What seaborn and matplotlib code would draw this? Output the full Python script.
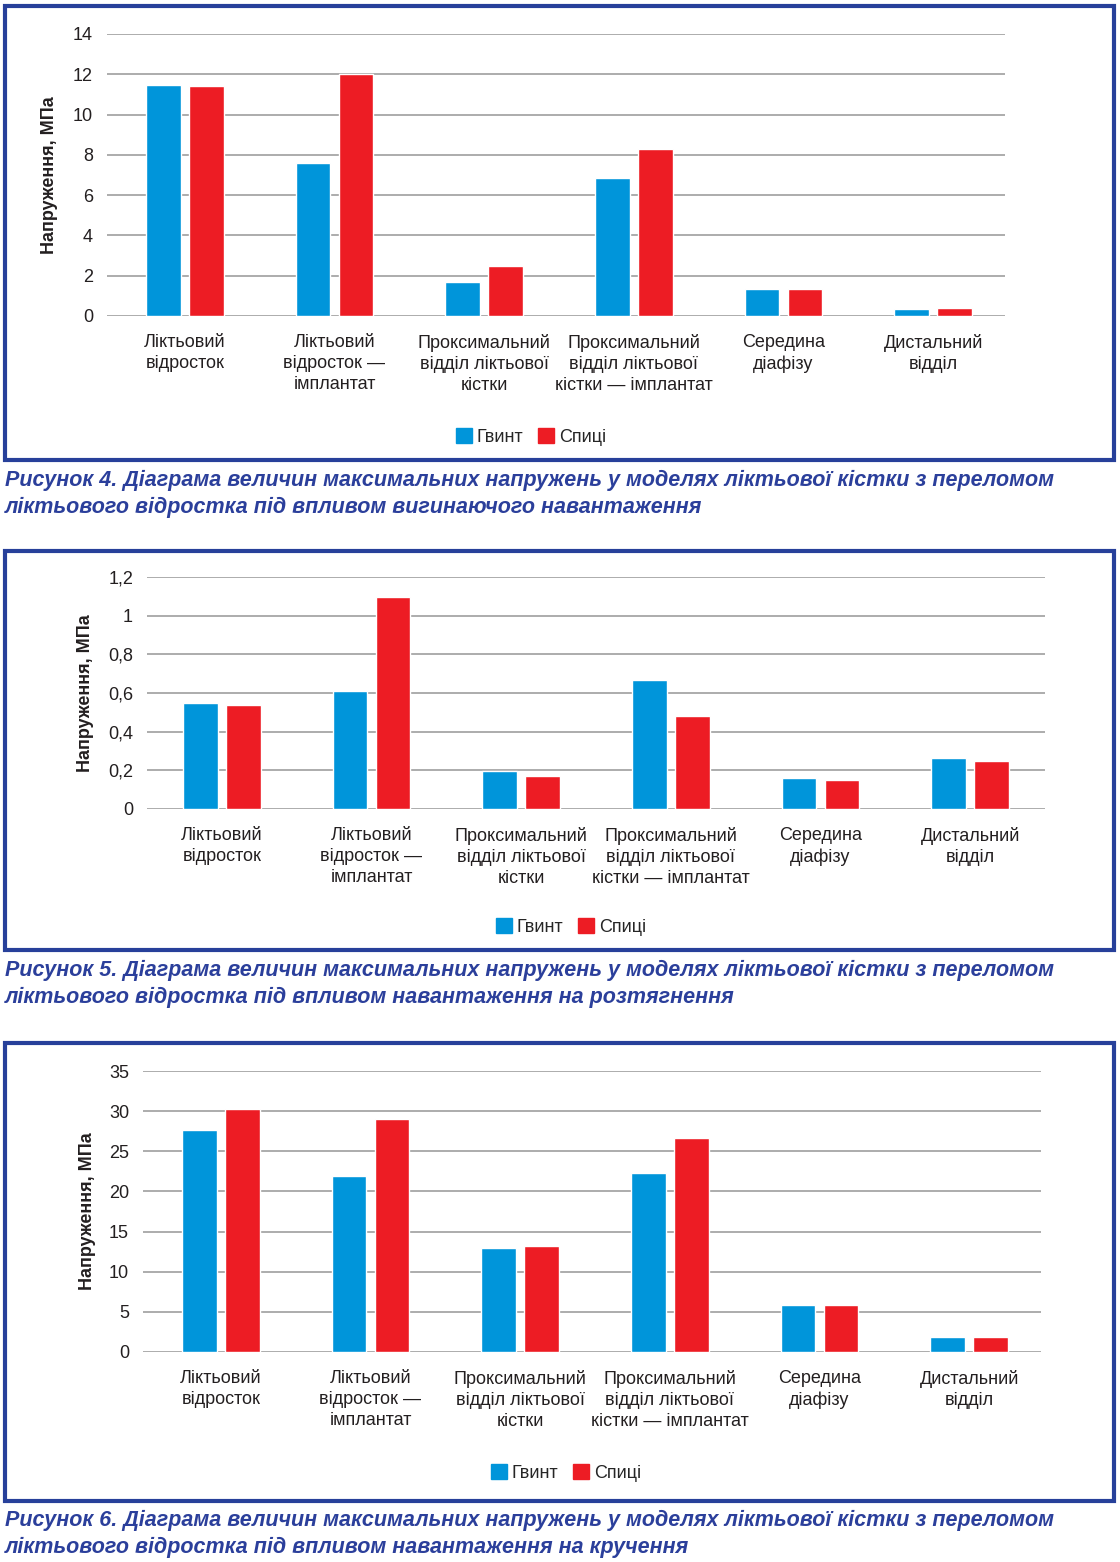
import pandas as pd
import matplotlib.pyplot as plt
import matplotlib.patches as mpatches
from matplotlib.ticker import FuncFormatter
import seaborn as sns

sns.set_theme(style='white')
plt.rcParams['font.family'] = ['Liberation Sans', 'DejaVu Sans']

# Дані
categories = ['Ліктьовий\nвідросток',
              'Ліктьовий\nвідросток —\nімплантат',
              'Проксимальний\nвідділ ліктьової\nкістки',
              'Проксимальний\nвідділ ліктьової\nкістки — імплантат',
              'Середина\nдіафізу',
              'Дистальний\nвідділ']
series = ['Гвинт', 'Спиці']

bend_screw = [11.47, 7.6, 1.69, 6.85, 1.34, 0.35]
bend_wire = [11.42, 12.02, 2.48, 8.29, 1.34, 0.40]

tens_screw = [0.548, 0.61, 0.197, 0.667, 0.16, 0.264]
tens_wire = [0.538, 1.097, 0.171, 0.481, 0.15, 0.248]

tors_screw = [27.65, 21.92, 12.95, 22.29, 5.85, 1.87]
tors_wire = [30.26, 29.02, 13.2, 26.65, 5.85, 1.87]

y_limits = [(0, 14, 2), (0, 1.2, 0.2), (0, 35, 5)]
captions = [
    'Рисунок 4. Діаграма величин максимальних напружень у моделях ліктьової кістки з переломом\n'
    'ліктьового відростка під впливом вигинаючого навантаження',
    'Рисунок 5. Діаграма величин максимальних напружень у моделях ліктьової кістки з переломом\n'
    'ліктьового відростка під впливом навантаження на розтягнення',
    'Рисунок 6. Діаграма величин максимальних напружень у моделях ліктьової кістки з переломом\n'
    'ліктьового відростка під впливом навантаження на кручення',
]

colors = ['#0095DA', '#ED1C24']
frame_color = '#27409A'
W, H = 1120, 1562

# положення (у пікселях): осі, зсув категорій, рамка, легенда, підпис осі y, підпис рисунка
layout = [
    dict(ax=(107, 1005, 34, 316), shift=0.02, box=(5, 1114, 6, 460), leg=(531, 437), ylab=50, cap=470),
    dict(ax=(147, 1045, 577, 809), shift=0.0, box=(5, 1114, 551, 950), leg=(571, 927), ylab=85, cap=960),
    dict(ax=(143, 1041, 1071, 1352), shift=0.02, box=(5, 1114, 1043, 1501), leg=(566, 1473), ylab=87, cap=1510),
]

datasets = [(bend_screw, bend_wire), (tens_screw, tens_wire), (tors_screw, tors_wire)]

fig = plt.figure(figsize=(W / 100, H / 100), dpi=100)


def comma_fmt(v, pos):
    s = f'{v:.1f}'.rstrip('0').rstrip('.')
    return s.replace('.', ',')


for (screw, wire), lay, (y0, y1, step), cap in zip(datasets, layout, y_limits, captions):
    l, r, t, b = lay['ax']
    ax = fig.add_axes([l / W, 1 - b / H, (r - l) / W, (b - t) / H])

    df = pd.DataFrame({
        'category': categories * 2,
        'value': screw + wire,
        'series': [series[0]] * 6 + [series[1]] * 6,
    })
    sns.barplot(data=df, x='category', y='value', hue='series', palette=colors,
                width=0.575, gap=0.19, saturation=1, ax=ax, legend=False, zorder=3)

    ax.set_ylim(y0, y1)
    ax.set_xlim(-0.5 - lay['shift'], 5.5 - lay['shift'])
    ticks = [round(y0 + i * step, 2) for i in range(int(round((y1 - y0) / step)) + 1)]
    ax.set_yticks(ticks)
    ax.yaxis.set_major_formatter(FuncFormatter(comma_fmt))
    ax.grid(axis='y', color='#A6A6A6', linewidth=1.3, zorder=0)
    ax.set_axisbelow(True)
    for s in ax.spines.values():
        s.set_visible(False)
    ax.tick_params(axis='both', length=0, labelsize=13, colors='#231F20')
    ax.tick_params(axis='y', pad=10)
    ax.tick_params(axis='x', pad=13)
    ax.set_xlabel('')
    ax.set_ylabel('')
    for lbl in ax.get_xticklabels():
        lbl.set_linespacing(1.3)

    fig.text(lay['ylab'] / W, 1 - ((t + b) / 2) / H, 'Напруження, МПа', rotation=90,
             ha='center', va='center', fontsize=13, fontweight='bold', color='#231F20')

    bl, br, bt, bb = lay['box']
    fig.patches.append(mpatches.Rectangle((bl / W, 1 - bb / H), (br - bl) / W, (bb - bt) / H,
                                          transform=fig.transFigure, fill=False,
                                          edgecolor=frame_color, linewidth=3))

    handles = [mpatches.Patch(color=c, label=s) for c, s in zip(colors, series)]
    lx, ly = lay['leg']
    fig.legend(handles=handles, loc='center', bbox_to_anchor=(lx / W, 1 - ly / H),
               ncol=2, frameon=False, fontsize=13, handlelength=0.9, handleheight=0.9,
               handletextpad=0.25, columnspacing=0.8, borderaxespad=0)

    fig.text(5 / W, 1 - lay['cap'] / H, cap, ha='left', va='top', fontsize=15.5,
             fontweight='bold', fontstyle='italic', color='#2B3F9B', linespacing=1.38)

fig.savefig('out.png', dpi=100)
